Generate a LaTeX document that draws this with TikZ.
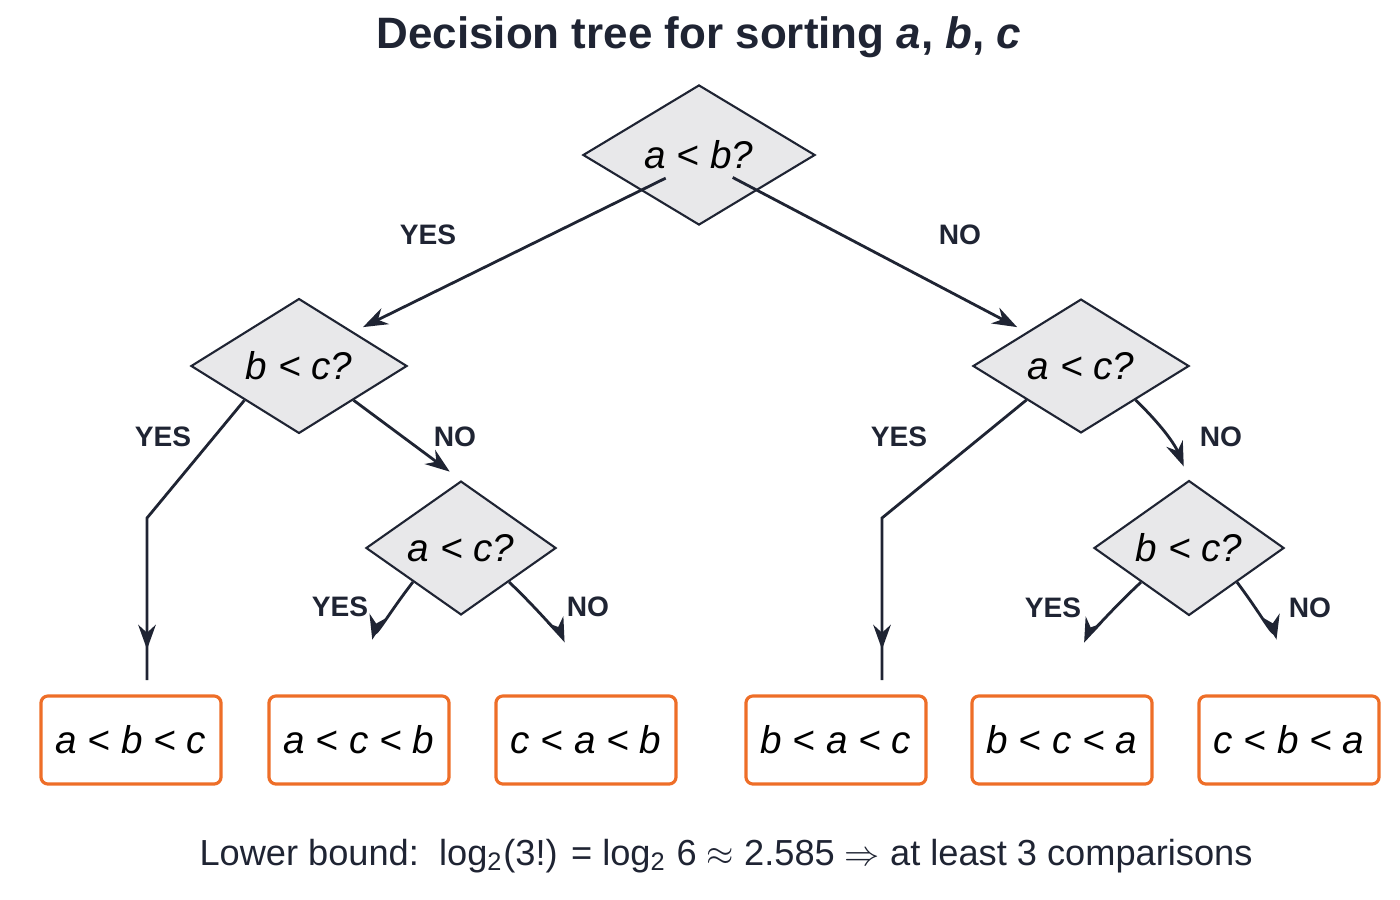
\documentclass[tikz,border=0pt]{standalone}
\usepackage{fontspec}
\setmainfont{Liberation Sans}
\usetikzlibrary{shapes.geometric,arrows.meta}
\definecolor{ink}{RGB}{31, 36, 51}
\definecolor{boxgray}{RGB}{232, 232, 234}
\definecolor{leaforange}{RGB}{238, 110, 40}

\begin{document}
\begin{tikzpicture}[x=0.01cm, y=-0.01cm,
    test/.style={diamond, draw=ink, fill=boxgray, line width=0.6pt, inner sep=0pt, font=\fontsize{11}{13}\selectfont\itshape},
    leaf/.style={rectangle, rounded corners=2pt, draw=leaforange, fill=white, line width=0.9pt, minimum width=1.8cm, minimum height=0.88cm, font=\fontsize{11}{13}\selectfont\itshape},
    lbl/.style={font=\fontsize{8}{10}\selectfont\bfseries, text=ink},
    edge/.style={-{Stealth[length=7pt, width=5pt]}, line width=0.8pt, draw=ink}]
        \useasboundingbox (0,0) rectangle (1400,900);

        % Title
        \node[font=\fontsize{12.5}{15}\selectfont\bfseries, text=ink] (title) at (699,37) {Decision tree for sorting \textit{a}, \textit{b}, \textit{c}};

        % Comparisons
        \node[test, minimum width=2.32cm, minimum height=1.40cm] (ab) at (699,155) {a < b?};
        \node[test, minimum width=2.16cm, minimum height=1.32cm] (bc) at (299,366) {b < c?};
        \node[test, minimum width=2.16cm, minimum height=1.32cm] (ac) at (1081,366) {a < c?};
        \node[test, minimum width=1.90cm, minimum height=1.18cm] (ac2) at (461,548) {a < c?};
        \node[test, minimum width=1.90cm, minimum height=1.18cm] (bc2) at (1189,548) {b < c?};

        % Outcomes
        \node[leaf] (abc) at (131,740) {a < b < c};
        \node[leaf] (acb) at (359,740) {a < c < b};
        \node[leaf] (cab) at (586,740) {c < a < b};
        \node[leaf] (bac) at (836,740) {b < a < c};
        \node[leaf] (bca) at (1062,740) {b < c < a};
        \node[leaf] (cba) at (1289,740) {c < b < a};

        % Arrows
        \draw[edge, shorten <=-8pt, shorten >=3pt] (ab.south west) -- (bc.north east);
        \draw[edge, shorten <=-8pt, shorten >=3pt] (ab.south east) -- (ac.north west);
        \draw[edge, shorten >=16\pgflinewidth] (bc.south west) -- (147,518) -- (147,680) -- (abc.north -| 147,0);
        \draw[edge, shorten >=4pt] (bc.south east) -- (ac2.north);
        \draw[edge, shorten >=16pt] (ac2.south west) to[bend right=12] (acb.north);
        \draw[edge, shorten >=16pt] (ac2.south east) to[bend left=12] (cab.north);
        \draw[edge, shorten >=16\pgflinewidth] (ac.south west) -- (882,518) -- (882,680) -- (bac.north -| 882,0);
        \draw[edge, shorten >=4pt] (ac.south east) to[bend left=12] (bc2.north);
        \draw[edge, shorten >=16pt] (bc2.south west) to[bend right=12] (bca.north);
        \draw[edge, shorten >=16pt] (bc2.south east) to[bend left=12] (cba.north);

        % Branch labels
        \node[lbl] (y1) at (428,235) {YES};
        \node[lbl] (n1) at (960,235) {NO};
        \node[lbl] (y2) at (163,437) {YES};
        \node[lbl] (n2) at (455,437) {NO};
        \node[lbl] (y3) at (340,607) {YES};
        \node[lbl] (n3) at (588,607) {NO};
        \node[lbl] (y4) at (899,437) {YES};
        \node[lbl] (n4) at (1221,437) {NO};
        \node[lbl] (y5) at (1053,608) {YES};
        \node[lbl] (n5) at (1310,608) {NO};

        \node[font=\fontsize{10.3}{12}\selectfont, text=ink] (bound) at (726,856) {Lower bound:\ \ log\textsubscript{2}(3!) = log\textsubscript{2} 6 $\approx$ 2.585 $\Rightarrow$ at least 3 comparisons};
    \end{tikzpicture}
\end{document}
